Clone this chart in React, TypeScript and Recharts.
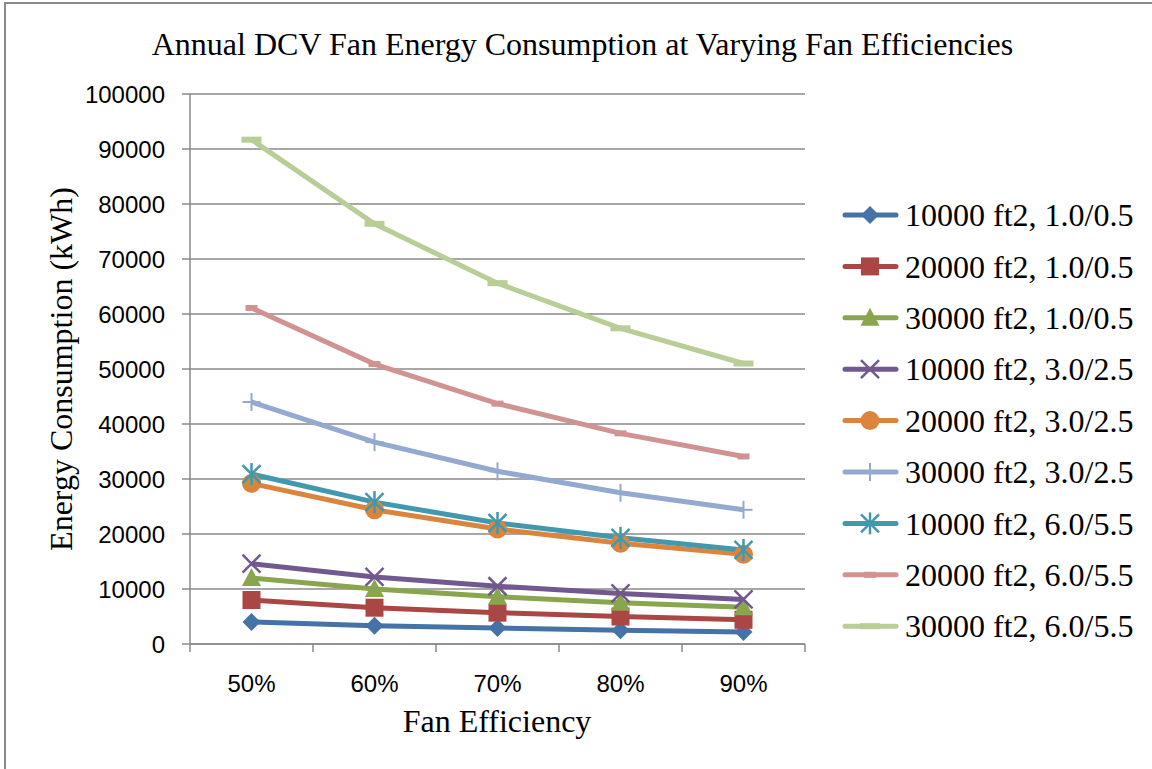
import React from 'react';
import { LineChart, Line, XAxis, YAxis, CartesianGrid, Legend } from 'recharts';

const categories = ['50%', '60%', '70%', '80%', '90%'];
const yTicks = [0, 10000, 20000, 30000, 40000, 50000, 60000, 70000, 80000, 90000, 100000];

const s1 = [4000, 3300, 2900, 2500, 2200];
const s2 = [8000, 6600, 5700, 5000, 4400];
const s3 = [12000, 10000, 8600, 7500, 6700];
const s4 = [14600, 12200, 10500, 9200, 8100];
const s5 = [29200, 24400, 20900, 18300, 16300];
const s6 = [44000, 36700, 31400, 27500, 24400];
const s7 = [30900, 25800, 22000, 19300, 17100];
const s8 = [61100, 50900, 43700, 38300, 34100];
const s9 = [91700, 76400, 65600, 57400, 51000];

const seriesNames = [
  '10000 ft2, 1.0/0.5',
  '20000 ft2, 1.0/0.5',
  '30000 ft2, 1.0/0.5',
  '10000 ft2, 3.0/2.5',
  '20000 ft2, 3.0/2.5',
  '30000 ft2, 3.0/2.5',
  '10000 ft2, 6.0/5.5',
  '20000 ft2, 6.0/5.5',
  '30000 ft2, 6.0/5.5',
];
const seriesValues = [s1, s2, s3, s4, s5, s6, s7, s8, s9];
const seriesColors = ['#4572A7', '#AA4643', '#89A54E', '#71588F', '#DB843D', '#93A9CF', '#4198AF', '#D19392', '#B9CD96'];
const seriesMarkers = ['diamond', 'square', 'triangle', 'x', 'circle', 'plus', 'asterisk', 'dashS', 'dashL'];

const data = categories.map((c, i) => {
  const row: any = { x: i + 0.5, cat: c };
  seriesValues.forEach((vals, k) => {
    row['s' + k] = vals[i];
  });
  return row;
});

function Marker({ type, color, cx, cy }: { type: string; color: string; cx: number; cy: number }) {
  switch (type) {
    case 'diamond':
      return <polygon points={`${cx},${cy - 9} ${cx + 9},${cy} ${cx},${cy + 9} ${cx - 9},${cy}`} fill={color} />;
    case 'square':
      return <rect x={cx - 9} y={cy - 9} width={18} height={18} fill={color} />;
    case 'triangle':
      return <polygon points={`${cx},${cy - 10} ${cx + 9.5},${cy + 8} ${cx - 9.5},${cy + 8}`} fill={color} />;
    case 'x':
      return (
        <g stroke={color} strokeWidth={2.5}>
          <line x1={cx - 9} y1={cy - 9} x2={cx + 9} y2={cy + 9} />
          <line x1={cx - 9} y1={cy + 9} x2={cx + 9} y2={cy - 9} />
        </g>
      );
    case 'circle':
      return <circle cx={cx} cy={cy} r={9.5} fill={color} />;
    case 'plus':
      return (
        <g stroke={color} strokeWidth={2}>
          <line x1={cx} y1={cy - 9} x2={cx} y2={cy + 9} />
          <line x1={cx - 9} y1={cy} x2={cx + 9} y2={cy} />
        </g>
      );
    case 'asterisk':
      return (
        <g stroke={color} strokeWidth={2.5}>
          <line x1={cx - 9} y1={cy - 9} x2={cx + 9} y2={cy + 9} />
          <line x1={cx - 9} y1={cy + 9} x2={cx + 9} y2={cy - 9} />
          <line x1={cx} y1={cy - 11} x2={cx} y2={cy + 11} />
        </g>
      );
    case 'dashS':
      return <rect x={cx - 6} y={cy - 3} width={12} height={6} fill={color} />;
    case 'dashL':
      return <rect x={cx - 10} y={cy - 3} width={20} height={6} fill={color} />;
    default:
      return null;
  }
}

const serif = '"Liberation Serif", "Times New Roman", serif';
const sans = '"Liberation Sans", Arial, sans-serif';

function LegendContent() {
  const rowH = 51.4;
  return (
    <svg width={314} height={470} style={{ display: 'block' }}>
      {seriesNames.map((name, i) => {
        const cy = 25 + i * rowH;
        return (
          <g key={name}>
            <line x1={9} y1={cy} x2={60} y2={cy} stroke={seriesColors[i]} strokeWidth={5} strokeLinecap="round" />
            <Marker type={seriesMarkers[i]} color={seriesColors[i]} cx={34} cy={cy} />
            <text x={69} y={cy} dy="0.35em" fontFamily={serif} fontSize={32} fill="#000">
              {name}
            </text>
          </g>
        );
      })}
    </svg>
  );
}

export default function App() {
  return (
    <div style={{ position: 'absolute', left: 0, top: 0, width: 1152, height: 769, overflow: 'hidden', background: '#fff' }}>
      <div
        style={{
          position: 'absolute',
          left: 4,
          top: 2,
          width: 1200,
          height: 800,
          border: '2px solid #8a8a8a',
          boxSizing: 'border-box',
        }}
      />
      <div
        style={{
          position: 'absolute',
          left: 0,
          top: 26,
          width: 1165,
          textAlign: 'center',
          fontFamily: serif,
          fontSize: 32,
          color: '#000',
          lineHeight: '36px',
        }}
      >
        Annual DCV Fan Energy Consumption at Varying Fan Efficiencies
      </div>
      <div
        style={{
          position: 'absolute',
          left: 497,
          top: 721,
          transform: 'translate(-50%, -50%)',
          fontFamily: serif,
          fontSize: 32,
          whiteSpace: 'nowrap',
          color: '#000',
        }}
      >
        Fan Efficiency
      </div>
      <div
        style={{
          position: 'absolute',
          left: 61,
          top: 369,
          transform: 'translate(-50%, -50%) rotate(-90deg)',
          fontFamily: serif,
          fontSize: 32,
          whiteSpace: 'nowrap',
          color: '#000',
        }}
      >
        Energy Consumption (kWh)
      </div>
      <div style={{ position: 'absolute', left: 0, top: 0 }}>
        <LineChart width={1152} height={769} data={data} margin={{ top: 94, right: 33, bottom: 65, left: 90 }}>
          <CartesianGrid vertical={false} stroke="#8a8a8a" strokeWidth={1.5} />
          <XAxis
            xAxisId="a"
            type="number"
            dataKey="x"
            domain={[0, 5]}
            ticks={[0, 1, 2, 3, 4, 5]}
            tickFormatter={() => ''}
            tickSize={8}
            height={10}
            stroke="#8a8a8a"
            strokeWidth={1.5}
            allowDecimals
          />
          <XAxis
            xAxisId="b"
            type="number"
            dataKey="x"
            domain={[0, 5]}
            ticks={[0.5, 1.5, 2.5, 3.5, 4.5]}
            tickFormatter={(v: number) => categories[Math.floor(v)]}
            axisLine={false}
            tickLine={false}
            tickSize={0}
            tickMargin={21}
            height={50}
            tick={{ fill: '#000', fontFamily: sans, fontSize: 24 }}
            allowDecimals
          />
          <YAxis
            type="number"
            domain={[0, 100000]}
            ticks={yTicks}
            width={100}
            stroke="#8a8a8a"
            strokeWidth={1.5}
            tickSize={8}
            tickMargin={17}
            tick={{ fill: '#000', fontFamily: sans, fontSize: 24 }}
          />
          {seriesNames.map((name, k) => (
            <Line
              key={name}
              xAxisId="b"
              type="linear"
              dataKey={'s' + k}
              name={name}
              stroke={seriesColors[k]}
              strokeWidth={5}
              isAnimationActive={false}
              dot={(p: any) => (
                <g key={`${name}-${p.index}`}>
                  <Marker type={seriesMarkers[k]} color={seriesColors[k]} cx={p.cx} cy={p.cy} />
                </g>
              )}
              activeDot={false}
            />
          ))}
          <Legend
            layout="vertical"
            verticalAlign="top"
            align="right"
            wrapperStyle={{ position: 'absolute', left: 836, top: 190, width: 314 }}
            content={() => <LegendContent />}
          />
        </LineChart>
      </div>
    </div>
  );
}
